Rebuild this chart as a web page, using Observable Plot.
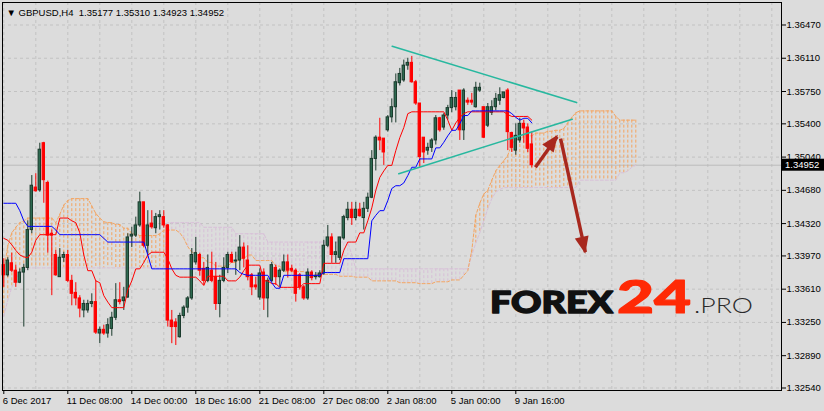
<!DOCTYPE html>
<html><head><meta charset="utf-8">
<script src="https://cdn.jsdelivr.net/npm/d3@7"></script>
<script src="https://cdn.jsdelivr.net/npm/@observablehq/plot@0.6"></script>
<style>
html,body{margin:0;padding:0;background:#dcdcdc;}
#chart{width:824px;height:411px;overflow:hidden;}
</style></head><body><div id="chart"></div>
<script>
// ---- chart text ----
const title = "\u25BC GBPUSD,H4  1.35177 1.35310 1.34923 1.34952";
const xTickBars = [0, 16, 32, 48, 64, 80, 96, 112, 128];
const xTickLabels = ["6 Dec 2017", "11 Dec 08:00", "14 Dec 00:00", "18 Dec 16:00", "21 Dec 08:00", "27 Dec 08:00", "2 Jan 08:00", "5 Jan 00:00", "9 Jan 16:00"];
const xGridBars = [0, 8, 16, 24, 32, 40, 48, 56, 64, 72, 80, 88, 96, 104, 112, 120, 128, 136, 144, 152, 160, 168, 176, 184, 192];
const yTicks = [1.36470, 1.36110, 1.35750, 1.35400, 1.35040, 1.34680, 1.34320, 1.33970, 1.33610, 1.33250, 1.32890, 1.32540];
const lastPrice = 1.34952;

// ---- H4 candles (bar index = position) ----
const open = [1.3387,1.3376,1.3389,1.3381,1.3368,1.3379,1.3384,1.3425,1.3471,1.3468,
1.3519,1.3476,1.3421,1.3398,1.3374,1.3395,1.3398,1.3370,1.3357,1.3351,
1.3338,1.3338,1.3345,1.3347,1.3313,1.3317,1.3313,1.3318,1.3330,1.3349,
1.3348,1.3352,1.3418,1.3419,1.3430,1.3455,1.3408,1.3432,1.3427,1.3439,
1.3439,1.3430,1.3327,1.3325,1.3309,1.3332,1.3341,1.3351,1.3390,1.3398,
1.3383,1.3370,1.3381,1.3374,1.3345,1.3370,1.3384,1.3398,1.3391,1.3392,
1.3406,1.3392,1.3376,1.3365,1.3352,1.3379,1.3351,1.3370,1.3384,1.3374,
1.3381,1.3390,1.3383,1.3381,1.3376,1.3363,1.3351,1.3379,1.3374,1.3374,
1.3378,1.3408,1.3417,1.3398,1.3395,1.3416,1.3438,1.3447,1.3438,1.3447,
1.3438,1.3448,1.3460,1.3502,1.3525,1.3524,1.3533,1.3547,1.3558,1.3584,
1.3587,1.3603,1.3606,1.3585,1.3562,1.3525,1.3511,1.3514,1.3522,1.3546,
1.3536,1.3549,1.3557,1.3558,1.3576,1.3533,1.3565,1.3565,1.3558,1.3576,
1.3558,1.3538,1.3552,1.3558,1.3565,1.3568,1.3576,1.3530,1.3511,1.3522,
1.3540,1.3536,1.35177];
const high = [1.3394,1.3395,1.3400,1.3387,1.3383,1.3388,1.3435,1.3484,1.3486,1.3519,
1.3520,1.3478,1.3425,1.3403,1.3405,1.3401,1.3403,1.3376,1.3368,1.3354,
1.3349,1.3349,1.3356,1.3370,1.3320,1.3322,1.3329,1.3336,1.3367,1.3368,
1.3363,1.3421,1.3428,1.3439,1.3466,1.3455,1.3446,1.3446,1.3443,1.3446,
1.3446,1.3431,1.3338,1.3329,1.3335,1.3343,1.3353,1.3405,1.3417,1.3400,
1.3390,1.3398,1.3401,1.3390,1.3376,1.3395,1.3401,1.3401,1.3401,1.3419,
1.3411,1.3408,1.3378,1.3374,1.3383,1.3383,1.3373,1.3390,1.3387,1.3383,
1.3398,1.3398,1.3387,1.3383,1.3378,1.3365,1.3383,1.3381,1.3379,1.3381,
1.3414,1.3430,1.3421,1.3412,1.3417,1.3441,1.3455,1.3455,1.3455,1.3454,
1.3455,1.3465,1.3511,1.3527,1.3546,1.3524,1.3549,1.3567,1.3594,1.3600,
1.3609,1.3611,1.3613,1.3587,1.3562,1.3525,1.3519,1.3524,1.3549,1.3547,
1.3551,1.3560,1.3576,1.3574,1.3576,1.3578,1.3568,1.3573,1.3585,1.3584,
1.3558,1.3562,1.3565,1.3573,1.3579,1.3574,1.3578,1.3531,1.3540,1.3546,
1.3544,1.3540,1.35310];
const low = [1.3363,1.3374,1.3379,1.3363,1.3367,1.3320,1.3381,1.3421,1.3466,1.3466,
1.3454,1.3400,1.3354,1.3375,1.3374,1.3390,1.3368,1.3343,1.3343,1.3330,
1.3330,1.3335,1.3341,1.3312,1.3302,1.3311,1.3308,1.3310,1.3327,1.3344,
1.3338,1.3351,1.3406,1.3417,1.3428,1.3406,1.3398,1.3426,1.3421,1.3425,
1.3427,1.3320,1.3302,1.3300,1.3308,1.3329,1.3335,1.3349,1.3387,1.3375,
1.3365,1.3368,1.3368,1.3338,1.3330,1.3368,1.3378,1.3389,1.3376,1.3381,
1.3384,1.3370,1.3354,1.3360,1.3349,1.3338,1.3330,1.3368,1.3365,1.3363,
1.3379,1.3373,1.3379,1.3347,1.3360,1.3349,1.3349,1.3370,1.3371,1.3373,
1.3376,1.3406,1.3389,1.3389,1.3392,1.3414,1.3435,1.3430,1.3435,1.3439,
1.3425,1.3444,1.3459,1.3489,1.3511,1.3495,1.3531,1.3541,1.3541,1.3581,
1.3585,1.3598,1.3584,1.3560,1.3493,1.3497,1.3506,1.3509,1.3517,1.3531,
1.3533,1.3544,1.3552,1.3554,1.3522,1.3522,1.3560,1.3560,1.3557,1.3574,
1.3524,1.3536,1.3549,1.3554,1.3560,1.3567,1.3511,1.3509,1.3506,1.3519,
1.3519,1.3509,1.34923];
const close = [1.3376,1.3392,1.3381,1.3368,1.3379,1.3384,1.3425,1.3473,1.3467,1.3512,
1.3479,1.3419,1.3419,1.3376,1.3395,1.3398,1.3370,1.3356,1.3351,1.3340,
1.3345,1.3345,1.3347,1.3314,1.3317,1.3313,1.3322,1.3330,1.3349,1.3347,
1.3352,1.3417,1.3420,1.3430,1.3455,1.3408,1.3430,1.3428,1.3439,1.3441,
1.3430,1.3327,1.3320,1.3320,1.3332,1.3341,1.3351,1.3398,1.3400,1.3381,
1.3370,1.3384,1.3370,1.3345,1.3370,1.3384,1.3398,1.3390,1.3392,1.3406,
1.3394,1.3374,1.3363,1.3363,1.3378,1.3351,1.3370,1.3387,1.3374,1.3381,
1.3390,1.3381,1.3381,1.3356,1.3363,1.3351,1.3379,1.3373,1.3375,1.3378,
1.3408,1.3417,1.3398,1.3401,1.3417,1.3439,1.3447,1.3438,1.3447,1.3440,
1.3448,1.3460,1.3502,1.3525,1.3522,1.3509,1.3547,1.3558,1.3585,1.3594,
1.3603,1.3606,1.3585,1.3562,1.3504,1.3509,1.3514,1.3522,1.3546,1.3533,
1.3549,1.3557,1.3568,1.3568,1.3533,1.3576,1.3563,1.3563,1.3579,1.3579,
1.3525,1.3558,1.3558,1.3567,1.3571,1.3574,1.3531,1.3514,1.3527,1.3540,
1.3535,1.3513,1.34952];

// ---- Ichimoku (read per bar) ----
const tenkan = [1.3416,1.3414,1.3409,1.3403,1.3398,1.3396,1.3395,1.3401,1.3414,1.3420,
1.3420,1.3420,1.3420,1.3420,1.3438,1.3438,1.3438,1.3435,1.3433,1.3422,
1.3398,1.3381,1.3381,1.3370,1.3368,1.3354,1.3347,1.3341,1.3341,1.3341,
1.3341,1.3360,1.3370,1.3383,1.3383,1.3390,1.3398,1.3401,1.3401,1.3401,
1.3401,1.3394,1.3383,1.3376,1.3374,1.3374,1.3374,1.3374,1.3374,1.3370,
1.3365,1.3375,1.3375,1.3375,1.3375,1.3375,1.3370,1.3370,1.3370,1.3374,
1.3381,1.3387,1.3387,1.3387,1.3387,1.3370,1.3370,1.3367,1.3367,1.3363,
1.3363,1.3363,1.3363,1.3363,1.3363,1.3367,1.3367,1.3367,1.3367,1.3367,
1.3389,1.3389,1.3389,1.3389,1.3389,1.3403,1.3412,1.3412,1.3412,1.3422,
1.3422,1.3435,1.3449,1.3468,1.3482,1.3489,1.3495,1.3495,1.3511,1.3525,
1.3536,1.3551,1.3553,1.3553,1.3553,1.3553,1.3553,1.3553,1.3553,1.3553,
1.3553,1.3544,1.3533,1.3541,1.3547,1.3551,1.3553,1.3553,1.3553,1.3553,
1.3553,1.3553,1.3553,1.3553,1.3553,1.3553,1.3550,1.3548,1.3548,1.3548,
1.3548,1.3548,1.3544];
const kijun = [1.3454,1.3454,1.3454,1.3454,1.3446,1.3435,1.3429,1.3429,1.3429,1.3429,
1.3429,1.3429,1.3429,1.3425,1.3420,1.3420,1.3420,1.3420,1.3420,1.3420,
1.3420,1.3420,1.3420,1.3420,1.3420,1.3416,1.3412,1.3412,1.3412,1.3412,
1.3412,1.3412,1.3412,1.3412,1.3412,1.3412,1.3398,1.3383,1.3383,1.3383,
1.3383,1.3383,1.3383,1.3383,1.3383,1.3383,1.3383,1.3383,1.3383,1.3383,
1.3383,1.3383,1.3383,1.3383,1.3383,1.3383,1.3383,1.3383,1.3383,1.3379,
1.3377,1.3376,1.3376,1.3376,1.3376,1.3376,1.3376,1.3368,1.3362,1.3362,
1.3376,1.3376,1.3376,1.3376,1.3376,1.3376,1.3376,1.3376,1.3376,1.3376,
1.3379,1.3379,1.3379,1.3379,1.3379,1.3394,1.3394,1.3394,1.3394,1.3394,
1.3394,1.3394,1.3435,1.3441,1.3446,1.3446,1.3457,1.3470,1.3473,1.3473,
1.3476,1.3484,1.3493,1.3493,1.3502,1.3502,1.3502,1.3502,1.3514,1.3514,
1.3520,1.3527,1.3533,1.3533,1.3540,1.3549,1.3549,1.3554,1.3554,1.3554,
1.3554,1.3554,1.3554,1.3554,1.3554,1.3554,1.3554,1.3551,1.3547,1.3544,
1.3546,1.3546,1.3541];
const spanA = [1.3381,1.3408,1.3422,1.3428,1.3433,1.3435,1.3438,1.3438,1.3438,1.3438,
1.3438,1.3438,1.3438,1.3433,1.3442,1.3452,1.3457,1.3459,1.3459,1.3459,
1.3459,1.3459,1.3451,1.3443,1.3438,1.3434,1.3433,1.3433,1.3431,1.3431,
1.3427,1.3427,1.3421,1.3421,1.3419,1.3419,1.3419,1.3419,1.3419,1.3421,
1.3425,1.3425,1.3425,1.3425,1.3422,1.3416,1.3407,1.3401,1.3401,1.3395,
1.3395,1.3390,1.3390,1.3386,1.3386,1.3386,1.3386,1.3390,1.3390,1.3394,
1.3394,1.3398,1.3398,1.3392,1.3392,1.3392,1.3392,1.3392,1.3386,1.3386,
1.3380,1.3380,1.3380,1.3380,1.3380,1.3380,1.3377,1.3377,1.3377,1.3377,
1.3377,1.3377,1.3377,1.3377,1.3375,1.3375,1.3375,1.3375,1.3374,1.3374,
1.3374,1.3374,1.3370,1.3370,1.3370,1.3370,1.3370,1.3370,1.3370,1.3368,
1.3368,1.3368,1.3368,1.3368,1.3367,1.3367,1.3367,1.3367,1.3369,1.3369,
1.3369,1.3369,1.3371,1.3371,1.3371,1.3376,1.3381,1.3403,1.3441,1.3454,
1.3464,1.3468,1.3479,1.3489,1.3495,1.3500,1.3506,1.3518,1.3523,1.3523,
1.3527,1.3527,1.3527,1.3530,1.3530,1.3530,1.3532,1.3532,1.3533,1.3533,
1.3535,1.3541,1.3547,1.3552,1.3554,1.3554,1.3554,1.3554,1.3554,1.3554,
1.3554,1.3554,1.3554,1.3548,1.3544,1.3544,1.3544,1.3544,1.3544];
const spanB = [1.3332,1.3349,1.3363,1.3373,1.3378,1.3381,1.3384,1.3384,1.3384,1.3384,
1.3384,1.3384,1.3384,1.3384,1.3384,1.3384,1.3384,1.3384,1.3384,1.3384,
1.3384,1.3384,1.3384,1.3384,1.3384,1.3384,1.3384,1.3384,1.3384,1.3384,
1.3384,1.3384,1.3384,1.3384,1.3384,1.3384,1.3384,1.3384,1.3384,1.3384,
1.3384,1.3433,1.3433,1.3433,1.3433,1.3433,1.3433,1.3433,1.3433,1.3433,
1.3428,1.3428,1.3428,1.3428,1.3428,1.3428,1.3428,1.3428,1.3421,1.3421,
1.3421,1.3421,1.3421,1.3421,1.3421,1.3421,1.3412,1.3412,1.3412,1.3412,
1.3412,1.3412,1.3412,1.3412,1.3412,1.3412,1.3412,1.3412,1.3412,1.3412,
1.3412,1.3412,1.3412,1.3412,1.3412,1.3412,1.3412,1.3398,1.3383,1.3383,
1.3383,1.3383,1.3383,1.3383,1.3383,1.3383,1.3383,1.3383,1.3383,1.3383,
1.3383,1.3383,1.3383,1.3383,1.3383,1.3383,1.3383,1.3383,1.3383,1.3383,
1.3383,1.3383,1.3383,1.3383,1.3383,1.3383,1.3383,1.3398,1.3411,1.3422,
1.3435,1.3448,1.3459,1.3466,1.3469,1.3471,1.3471,1.3471,1.3471,1.3471,
1.3471,1.3471,1.3471,1.3471,1.3471,1.3471,1.3471,1.3471,1.3471,1.3471,
1.3471,1.3471,1.3471,1.3471,1.3479,1.3479,1.3479,1.3479,1.3479,1.3479,
1.3479,1.3479,1.3479,1.3479,1.3487,1.3487,1.3489,1.3493,1.3495];

// ---- drawn objects (bar index, price) ----
const trendUpperBars = [97.1, 143.2], trendUpperPrices = [1.3624, 1.3563];
const trendLowerBars = [98.75, 142.1], trendLowerPrices = [1.3486, 1.3545];
const arrowFromBar = [132.9, 139.2], arrowFromPrice = [1.3493, 1.3524];
const arrowToBar = [138.35, 145.4], arrowToPrice = [1.3526, 1.3401];

// ---- build ----
const BULL = "#2d6a50", BULL_EDGE = "#1a3a2c", BEAR = "#ff0000";
const GRID = "#c2c2c2", TEAL = "#27b89f", ARROW = "#a8281e";
const candles = open.map((o, i) => ({i, o, h: high[i], l: low[i], c: close[i], up: close[i] >= o}));
const cloud = spanA.map((a, i) => ({i, a, b: spanB[i]}));
const tk = tenkan.map((v, i) => ({i, v}));
const kj = kijun.map((v, i) => ({i, v}));
const trends = [
  ...trendUpperBars.map((x, k) => ({id: "u", x, p: trendUpperPrices[k]})),
  ...trendLowerBars.map((x, k) => ({id: "l", x, p: trendLowerPrices[k]}))
];
const arrows = arrowFromBar.map((x, k) => ({x1: x, y1: arrowFromPrice[k], x2: arrowToBar[k], y2: arrowToPrice[k]}));

const plot = Plot.plot({
  width: 824, height: 411,
  marginTop: 2, marginBottom: 21, marginLeft: 2, marginRight: 43,
  style: {background: "#dcdcdc", fontFamily: "Liberation Sans, Arial, sans-serif", fontSize: "9.5px", color: "#000", overflow: "visible"},
  x: {domain: [-0.325, 194.425], axis: "bottom", ticks: xTickBars, tickFormat: d => xTickLabels[xTickBars.indexOf(d)], tickSize: 4, tickPadding: 3, label: null},
  y: {domain: [1.325131, 1.367135], axis: "right", ticks: yTicks, tickFormat: d3.format(".5f"), tickSize: 4, tickPadding: 1, label: null},
  color: {type: "identity"},
  marks: [
    Plot.ruleY(yTicks, {stroke: GRID, strokeDasharray: "3,3"}),
    Plot.ruleX(xGridBars, {stroke: GRID, strokeDasharray: "3,3"}),
    Plot.ruleY([lastPrice], {stroke: "#bcbcbc"}),
    Plot.ruleX(cloud, {x: "i", y1: "a", y2: "b", stroke: d => d.a >= d.b ? "#f4a460" : "#d8bfd8", strokeDasharray: "3,2"}),
    Plot.line(cloud, {x: "i", y: "b", stroke: "#d8bfd8", strokeWidth: 1, strokeDasharray: "3,2"}),
    Plot.line(cloud, {x: "i", y: "a", stroke: "#f4a460", strokeWidth: 1, strokeDasharray: "3,2"}),
    Plot.ruleX(candles, {x: "i", y1: "l", y2: "h", stroke: d => d.up ? BULL_EDGE : BEAR}),
    Plot.rect(candles, {x1: d => d.i - 0.3, x2: d => d.i + 0.3, y1: "o", y2: "c", fill: d => d.up ? BULL : BEAR, stroke: d => d.up ? BULL_EDGE : BEAR, strokeWidth: 1}),
    Plot.line(tk, {x: "i", y: "v", stroke: "#ff0000", strokeWidth: 1}),
    Plot.line(kj, {x: "i", y: "v", stroke: "#0000ff", strokeWidth: 1}),
    Plot.line(trends, {x: "x", y: "p", z: "id", stroke: TEAL, strokeWidth: 1.6}),
    Plot.link(arrows, {x1: "x1", y1: "y1", x2: "x2", y2: "y2", stroke: ARROW, strokeWidth: 3.4}),
    Plot.frame({stroke: "#000"}),
    Plot.text([title], {frameAnchor: "top-left", dx: 4, dy: 7, textAnchor: "start", fill: "#000"})
  ]
});

// left-align the time labels at their ticks, like the terminal does
d3.select(plot).selectAll('g[aria-label^="x-axis"] text').attr("text-anchor", "start").attr("dx", -1);

const svg = d3.select(plot);
const sx = plot.scale("x"), sy = plot.scale("y");
const X = d3.scaleLinear(sx.domain, sx.range), Y = d3.scaleLinear(sy.domain, sy.range);

// filled arrow heads at the end of each arrow
arrows.forEach(a => {
  const x1 = X(a.x1), y1 = Y(a.y1), x2 = X(a.x2), y2 = Y(a.y2);
  const len = Math.hypot(x2 - x1, y2 - y1), ux = (x2 - x1) / len, uy = (y2 - y1) / len;
  const L = 15, W = 7, bx = x2 - ux * L, by = y2 - uy * L;
  svg.append("path")
    .attr("d", `M${x2 + ux * 2},${y2 + uy * 2}L${bx - uy * W},${by + ux * W}L${bx + uy * W},${by - ux * W}Z`)
    .attr("fill", ARROW);
});

// current price label on the price axis
const py = Y(lastPrice), rx = sx.range[1];
svg.append("rect").attr("x", rx + 1).attr("y", py - 6).attr("width", 42).attr("height", 12).attr("fill", "#000");
svg.append("text").attr("x", rx + 4).attr("y", py).attr("dy", "0.35em").attr("fill", "#fff").attr("text-anchor", "start")
  .attr("font-family", "Liberation Sans, Arial, sans-serif").attr("font-size", 9.5).text(d3.format(".5f")(lastPrice));

// watermark logo
const logo = svg.append("g").attr("font-family", "Lato, Inter, sans-serif").attr("text-anchor", "start");
logo.append("text").attr("x", 490).attr("y", 313).attr("font-size", 30).attr("font-weight", 900).attr("fill", "#111")
  .attr("stroke", "#111").attr("stroke-width", 1.4).attr("stroke-linejoin", "round")
  .attr("textLength", 123).attr("lengthAdjust", "spacingAndGlyphs").text("FOREX");
logo.append("text").attr("x", 617).attr("y", 313).attr("font-size", 46).attr("font-weight", 900).attr("fill", "#ff2a06")
  .attr("stroke", "#ff2a06").attr("stroke-width", 1.2).attr("stroke-linejoin", "round")
  .attr("textLength", 74).attr("lengthAdjust", "spacingAndGlyphs").text("24");
logo.append("text").attr("x", 694).attr("y", 313).attr("font-size", 22).attr("font-weight", 300).attr("fill", "#2a2a2a")
  .attr("textLength", 59).attr("lengthAdjust", "spacingAndGlyphs").text(".PRO");

document.getElementById("chart").appendChild(plot);
</script>
</body></html>
